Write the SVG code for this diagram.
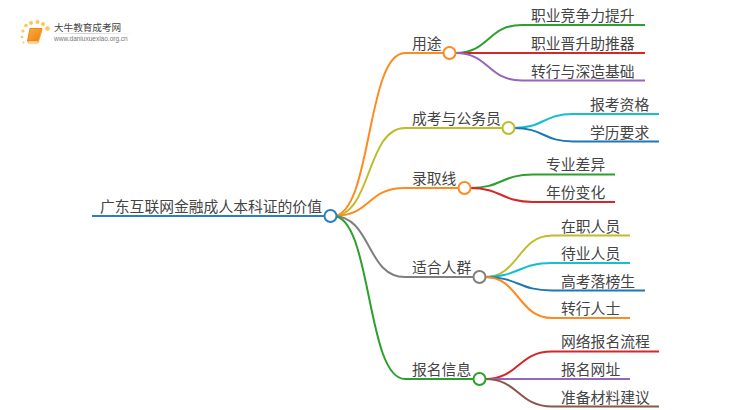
<svg xmlns="http://www.w3.org/2000/svg" width="750" height="410" viewBox="0 0 750 410">
<style>
text{font-family:"Noto Sans CJK SC","Liberation Sans",sans-serif;font-size:14.800px;fill:#444}
.c{fill:none;stroke-width:2}
.n{fill:#fff;stroke-width:2}
</style>
<defs><linearGradient id="bk" x1="0" y1="0" x2="1" y2="1"><stop offset="0" stop-color="#fbb03b"/><stop offset="1" stop-color="#ee7d11"/></linearGradient>
<linearGradient id="ul" x1="0" x2="1"><stop offset="0" stop-color="#ccc" stop-opacity="0"/><stop offset=".4" stop-color="#ccc"/><stop offset="1" stop-color="#ccc" stop-opacity="0"/></linearGradient></defs>
<rect width="750" height="410" fill="#fff"/>
<g id="logo">
<g fill="#fbc65a"><circle cx="22" cy="37" r="1.300"/><circle cx="23" cy="31" r="1.500"/><circle cx="26" cy="25.500" r="1.800"/><circle cx="31" cy="23" r="2"/><circle cx="37.500" cy="22" r="2"/><circle cx="43" cy="24" r="2"/><circle cx="47.500" cy="28.500" r="2.300"/><circle cx="23.500" cy="42.500" r="1"/></g>
<path d="M30 28.500H42L38 41H27.500Z" fill="url(#bk)" stroke="#e8891a" stroke-width="1"/>
<path d="M27.500 41L28.500 43H38L42 30" fill="none" stroke="#f5a83a" stroke-width="1"/>
<text x="54" y="31" style="font-size:9.600px;fill:#444">大牛教育成考网</text>
<rect x="50" y="33" width="85" height="1" fill="url(#ul)"/>
<text x="54" y="41" style="font-size:6.500px;font-family:'Liberation Sans',sans-serif;fill:#777">www.daniuxuexiao.org.cn</text>
</g>
<g id="connectors">
<path class="c" stroke="#2a7fc4" d="M92 216H325"/>
<path class="c" stroke="#ff8a1f" d="M333 216C372 216 366 53 405 53H444"/>
<path class="c" stroke="#bdbd2c" d="M333 216C372 216 366 128 405 128H503"/>
<path class="c" stroke="#ff8a1f" d="M333 216C372 216 366 188 405 188H459"/>
<path class="c" stroke="#7f7f7f" d="M333 216C372 216 366 277 405 277H474"/>
<path class="c" stroke="#2ca02c" d="M333 216C372 216 366 379 405 379H474"/>
<path class="c" stroke="#2ca02c" d="M455 53C490 53 487 25 522 25H645"/>
<path class="c" stroke="#d62728" d="M455 53H645"/>
<path class="c" stroke="#9467bd" d="M455 53C490 53 487 80.500 522 80.500H645"/>
<path class="c" stroke="#17becf" d="M514 128C544 128 543 114 573 114H659"/>
<path class="c" stroke="#1f77b4" d="M514 128C544 128 543 141.500 573 141.500H659"/>
<path class="c" stroke="#2ca02c" d="M470 188C502 188 501 174.500 533 174.500H615"/>
<path class="c" stroke="#d62728" d="M470 188C502 188 501 202 533 202H615"/>
<path class="c" stroke="#bdbd2c" d="M485 277C519 277 518 235.500 552 235.500H630"/>
<path class="c" stroke="#17becf" d="M485 277C519 277 518 263 552 263H630"/>
<path class="c" stroke="#1f77b4" d="M485 277C519 277 518 290.500 552 290.500H645"/>
<path class="c" stroke="#ff8a1f" d="M485 277C519 277 518 318 552 318H630"/>
<path class="c" stroke="#d62728" d="M485 379C519 379 518 351.500 552 351.500H659"/>
<path class="c" stroke="#9467bd" d="M485 379H630"/>
<path class="c" stroke="#8c564b" d="M485 379C519 379 518 406.500 552 406.500H659"/>
</g>
<g id="root"><circle class="n" stroke="#2a7fc4" cx="330.500" cy="216" r="6"/><text x="100" y="212">广东互联网金融成人本科证的价值</text></g>
<g id="n1"><circle class="n" stroke="#ff8a1f" cx="449.500" cy="53" r="6"/><text x="412" y="49">用途</text></g>
<g id="n2"><circle class="n" stroke="#bdbd2c" cx="508.500" cy="128" r="6"/><text x="412" y="124">成考与公务员</text></g>
<g id="n3"><circle class="n" stroke="#ff8a1f" cx="464.500" cy="188" r="6"/><text x="412" y="184">录取线</text></g>
<g id="n4"><circle class="n" stroke="#7f7f7f" cx="479.500" cy="277" r="6"/><text x="412" y="273">适合人群</text></g>
<g id="n5"><circle class="n" stroke="#2ca02c" cx="479.500" cy="379" r="6"/><text x="412" y="375">报名信息</text></g>
<g id="l1"><text x="531" y="21">职业竞争力提升</text></g>
<g id="l2"><text x="531" y="49">职业晋升助推器</text></g>
<g id="l3"><text x="531" y="77">转行与深造基础</text></g>
<g id="l4"><text x="590" y="110">报考资格</text></g>
<g id="l5"><text x="590" y="138">学历要求</text></g>
<g id="l6"><text x="546" y="170">专业差异</text></g>
<g id="l7"><text x="546" y="198">年份变化</text></g>
<g id="l8"><text x="561" y="232">在职人员</text></g>
<g id="l9"><text x="561" y="259">待业人员</text></g>
<g id="l10"><text x="561" y="287">高考落榜生</text></g>
<g id="l11"><text x="561" y="314">转行人士</text></g>
<g id="l12"><text x="561" y="347">网络报名流程</text></g>
<g id="l13"><text x="561" y="375">报名网址</text></g>
<g id="l14"><text x="561" y="403">准备材料建议</text></g>
</svg>
